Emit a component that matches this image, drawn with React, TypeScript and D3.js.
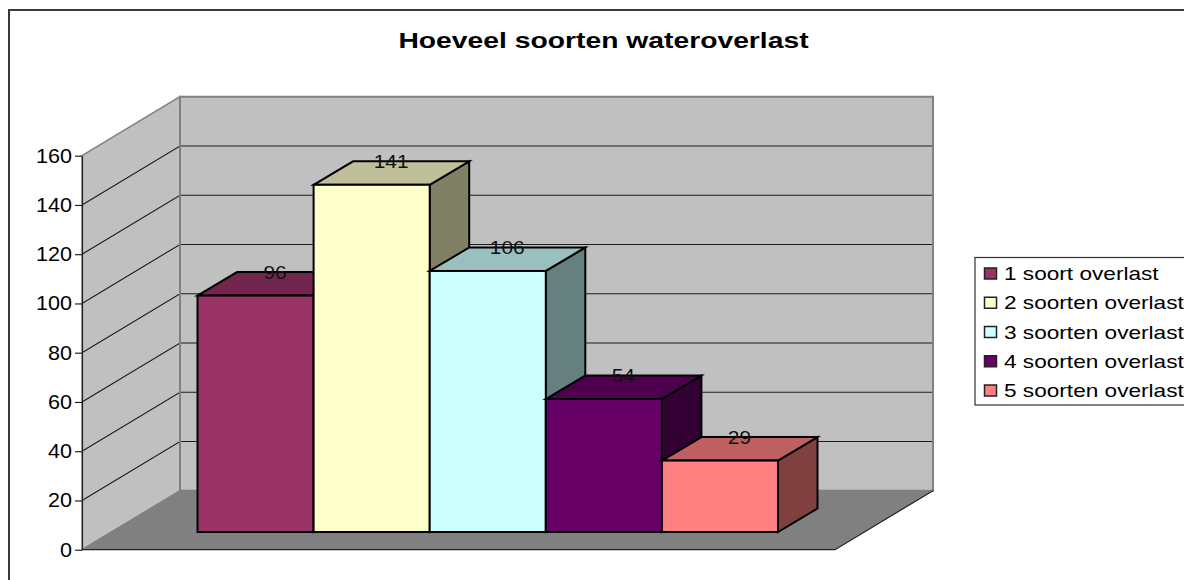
import { useRef, useEffect } from "react";
import * as d3 from "d3";

const title = "Hoeveel soorten wateroverlast";
const categories = ["1 soort overlast", "2 soorten overlast", "3 soorten overlast", "4 soorten overlast", "5 soorten overlast"];
const values = [96, 141, 106, 54, 29];
const colors = ["#993366", "#FFFFCC", "#CCFFFF", "#660066", "#FF8080"];
const yTicks = [0, 20, 40, 60, 80, 100, 120, 140, 160];

const WIDTH = 1184;
const HEIGHT = 580;
const FONT = "'Liberation Sans', Arial, sans-serif";

// Depth of the 3D box and of the bars, in pixels
const wall = { dx: 98, dy: -59 };
const barDepth = { dx: 39.5, dy: -23.5 };
const barFloorY = 532;

// The original was a stretched bitmap, its text is wider than it is tall
const titleStretch = 1.286;
const axisStretch = 1.08;
const labelStretch = 1.1;
const legendStretch = 1.293;

function shade(color: string, k: number) {
  const c = d3.rgb(color);
  return d3.rgb(c.r * k, c.g * k, c.b * k).formatHex();
}

export default function App() {
  const svgRef = useRef<SVGSVGElement>(null);

  useEffect(() => {
    if (!svgRef.current) return;
    const svg = d3.select(svgRef.current);
    svg.selectAll("*").remove();

    const x0 = 82;
    const x1 = 835;
    const y = d3.scaleLinear().domain([0, 160]).range([549.7, 155.7]);
    const x = d3.scaleBand<string>().domain(categories).range([197.5, 778]).padding(0);
    const h = (v: number) => y(0) - y(v);
    const poly = (pts: number[][]) => pts.map(p => p.join(",")).join(" ");

    // Chart frame (only top and left are in view)
    svg.append("path").attr("d", `M9,${HEIGHT}V10H${WIDTH}`)
      .attr("fill", "none").attr("stroke", "#3a3a3a").attr("stroke-width", 2);

    svg.append("text").attr("transform", `translate(603.5,48) scale(${titleStretch},1)`)
      .attr("text-anchor", "middle").attr("font-family", FONT).attr("font-size", 22)
      .attr("font-weight", "700").attr("fill", "#000").text(title);

    // Walls and floor
    const top = y(160);
    const bottom = y(0);
    svg.append("polygon")
      .attr("points", poly([[x0 + wall.dx, top + wall.dy], [x1 + wall.dx, top + wall.dy], [x1 + wall.dx, bottom + wall.dy], [x0 + wall.dx, bottom + wall.dy]]))
      .attr("fill", "#c0c0c0").attr("stroke", "#808080").attr("stroke-width", 2);
    svg.append("polygon")
      .attr("points", poly([[x0, top], [x0 + wall.dx, top + wall.dy], [x0 + wall.dx, bottom + wall.dy], [x0, bottom]]))
      .attr("fill", "#c0c0c0").attr("stroke", "#808080").attr("stroke-width", 1.5);
    svg.append("polygon")
      .attr("points", poly([[x0, bottom], [x1, bottom], [x1 + wall.dx, bottom + wall.dy], [x0 + wall.dx, bottom + wall.dy]]))
      .attr("fill", "#808080");
    svg.append("path")
      .attr("d", `M${x0},${bottom}H${x1}L${x1 + wall.dx},${bottom + wall.dy}`)
      .attr("fill", "none").attr("stroke", "#222").attr("stroke-width", 1.2);

    // Gridlines over both walls
    svg.append("g").selectAll("path").data(yTicks.filter(t => t > 0 && t < 160)).join("path")
      .attr("d", t => `M${x0},${y(t)}L${x0 + wall.dx},${y(t) + wall.dy}H${x1 + wall.dx - 1}`)
      .attr("fill", "none").attr("stroke", "#1c1c1c").attr("stroke-width", 1.1);

    // Redraw the corner post over the gridlines
    svg.append("line")
      .attr("x1", x0 + wall.dx).attr("x2", x0 + wall.dx)
      .attr("y1", top + wall.dy).attr("y2", bottom + wall.dy)
      .attr("stroke", "#808080").attr("stroke-width", 2);

    // Value axis
    const axis = svg.append("g").attr("transform", `translate(${x0},0)`)
      .call(d3.axisLeft(y).tickValues(yTicks).tickSize(7).tickPadding(3).tickSizeOuter(0));
    axis.select(".domain").attr("stroke", "#222").attr("stroke-width", 1.2);
    axis.selectAll("line").attr("stroke", "#222").attr("stroke-width", 1.2);
    axis.selectAll("text").attr("font-family", FONT).attr("font-size", 20).attr("fill", "#000")
      .attr("x", -10 / axisStretch).attr("transform", `scale(${axisStretch},1)`);

    // Bars, painted left to right so each one overlaps its left neighbour's side
    const bars = svg.append("g").selectAll("g").data(categories).join("g")
      .attr("stroke", "#000").attr("stroke-width", 2).attr("stroke-linejoin", "miter");
    bars.each(function (cat, i) {
      const g = d3.select(this);
      const left = x(cat)!;
      const right = left + x.bandwidth();
      const yTop = barFloorY - h(values[i]);
      g.append("polygon")
        .attr("points", poly([[right, yTop], [right + barDepth.dx, yTop + barDepth.dy], [right + barDepth.dx, barFloorY + barDepth.dy], [right, barFloorY]]))
        .attr("fill", shade(colors[i], 0.5));
      g.append("polygon")
        .attr("points", poly([[left, yTop], [left + barDepth.dx, yTop + barDepth.dy], [right + barDepth.dx, yTop + barDepth.dy], [right, yTop]]))
        .attr("fill", shade(colors[i], 0.75));
      g.append("rect")
        .attr("x", left).attr("y", yTop).attr("width", x.bandwidth()).attr("height", h(values[i]))
        .attr("fill", colors[i]);
    });

    // Data labels
    svg.append("g").selectAll("text").data(categories).join("text")
      .attr("transform", (c, i) => `translate(${x(c)! + x.bandwidth() / 2 + 19.5},${barFloorY - h(values[i]) - 17}) scale(${labelStretch},1)`)
      .attr("text-anchor", "middle").attr("font-family", FONT).attr("font-size", 19)
      .attr("fill", "#111").text((_, i) => values[i]);

    // Legend, runs off the right edge like the reference
    const legend = svg.append("g");
    legend.append("rect").attr("x", 975).attr("y", 257.5).attr("width", 240).attr("height", 147.5)
      .attr("fill", "#fff").attr("stroke", "#333").attr("stroke-width", 1.2);
    const rows = d3.scalePoint<string>().domain(categories).range([273.5, 390.5]);
    const row = legend.selectAll("g").data(categories).join("g")
      .attr("transform", c => `translate(0,${rows(c)})`);
    row.append("rect").attr("x", 984.5).attr("y", -5.5).attr("width", 12).attr("height", 11)
      .attr("fill", (_, i) => colors[i]).attr("stroke", "#222").attr("stroke-width", 1.5);
    row.append("text").attr("transform", `translate(1004,6.5) scale(${legendStretch},1)`)
      .attr("font-family", FONT).attr("font-size", 17.5).attr("fill", "#000").text(c => c);
  }, []);

  return (
    <svg ref={svgRef} width={WIDTH} height={HEIGHT}
      style={{ position: "fixed", left: 0, top: 0, background: "#fff" }} />
  );
}
